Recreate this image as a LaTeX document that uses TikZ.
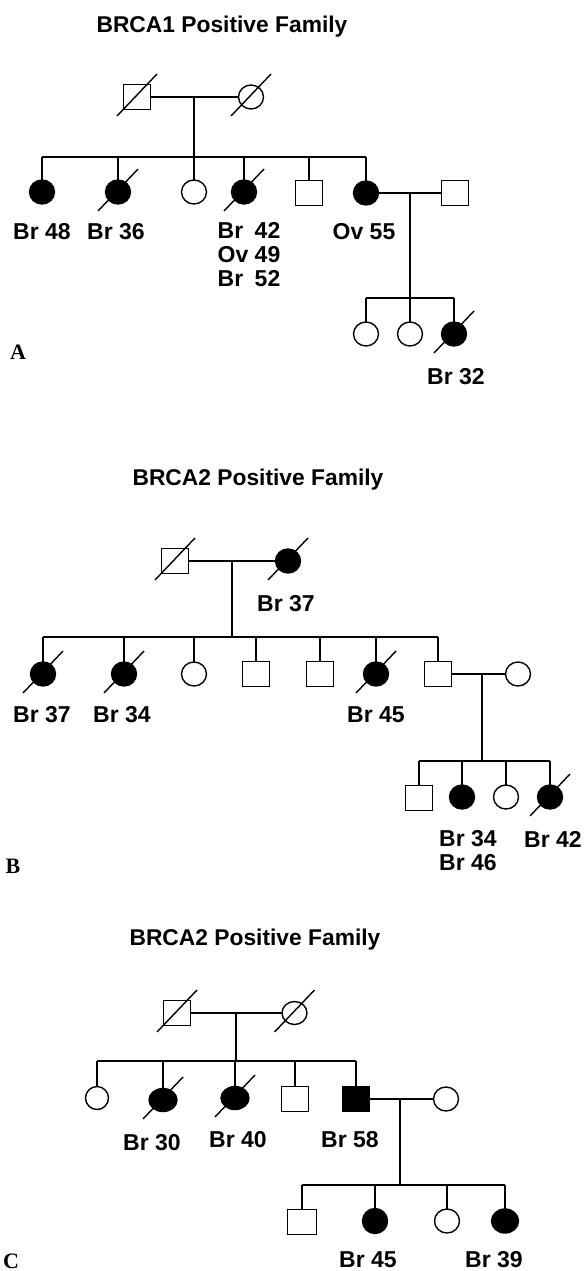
\documentclass[tikz,border=0pt]{standalone}
\usepackage{fontspec}
\setmainfont{Liberation Sans}
\newfontfamily\panelserif{Liberation Serif}
\usetikzlibrary{shapes.geometric}
\begin{document}
\begin{tikzpicture}[x=1pt,y=-1pt,
  every node/.style={inner sep=0pt, outer sep=0pt},
  line width=1.4pt,
  male/.style={draw, rectangle, minimum width=27pt, minimum height=25pt, fill=white},
  female/.style={draw, ellipse, minimum width=25pt, minimum height=24pt, fill=white},
  aff/.style={fill=black},
  lbl/.style={font=\fontsize{23}{24}\selectfont\bfseries, align=center},
  ttl/.style={font=\fontsize{22.8}{24}\selectfont\bfseries},
  panel/.style={font=\fontsize{22}{24}\selectfont\panelserif\bfseries},
  dslash/.style={line width=1.4pt}
]
\useasboundingbox (0,0) rectangle (585,1271);

% ---------------- Panel A ----------------
\node[ttl] (tA) at (222,27) {BRCA1 Positive Family};
\node[male] (aF) at (137,97) {};
\node[female] (aM) at (251,97) {};
\node[female,aff] (a1) at (42,192) {};
\node[female,aff] (a2) at (118,192) {};
\node[female] (a3) at (194,192) {};
\node[female,aff] (a4) at (244,192) {};
\node[male] (a5) at (309,193) {};
\node[female,aff] (a6) at (366,193) {};
\node[male] (aS) at (455,193) {};
\node[female] (a7) at (366,334) {};
\node[female] (a8) at (410,334) {};
\node[female,aff] (a9) at (454,334) {};
\coordinate (aMid) at (194,97);
\coordinate (aSib) at (194,157);
\coordinate (aMid2) at (410,193);
\coordinate (aSib2) at (410,298);
\draw (aF) -- (aM);
\draw (aMid) -- (aSib);
\draw (a1.north |- aSib) -- (a6.north |- aSib);
\foreach \c in {a1,a2,a3,a4,a5,a6} \draw (\c.north) -- (\c.north |- aSib);
\draw (a6) -- (aS);
\draw (aMid2) -- (aSib2);
\draw (a7.north |- aSib2) -- (a9.north |- aSib2);
\foreach \c in {a7,a8,a9} \draw (\c.north) -- (\c.north |- aSib2);
\foreach \n in {aF,aM,a2,a4,a9}
  \draw[dslash] ([shift={(-20,19)}]\n.center) -- ([shift={(20,-23)}]\n.center);
\node[lbl] (la1) at (42,232) {Br 48};
\node[lbl] (la2) at (116,232) {Br 36};
\node[lbl] (la4) at (249,258) {\begin{tabular}{@{}l@{\ }l@{}}Br & 42\\ Ov & 49\\ Br & 52\end{tabular}};
\node[lbl] (la6) at (364,232) {Ov 55};
\node[lbl] (la9) at (456,377) {Br 32};
\node[panel] (pA) at (18,352) {A};

% ---------------- Panel B ----------------
\node[ttl] (tB) at (258,480) {BRCA2 Positive Family};
\node[male] (bF) at (175,561) {};
\node[female,aff] (bM) at (288,561) {};
\node[female,aff] (b1) at (43,674) {};
\node[female,aff] (b2) at (124,674) {};
\node[female] (b3) at (194,674) {};
\node[male] (b4) at (256,674) {};
\node[male] (b5) at (320,674) {};
\node[female,aff] (b6) at (376,674) {};
\node[male] (b7) at (438,674) {};
\node[female] (bS) at (518,674) {};
\node[male] (b8) at (419,798) {};
\node[female,aff] (b9) at (462,797) {};
\node[female] (b10) at (506,797) {};
\node[female,aff] (b11) at (550,797) {};
\coordinate (bMid) at (232,561);
\coordinate (bSib) at (232,637);
\coordinate (bMid2) at (482,674);
\coordinate (bSib2) at (482,761);
\draw (bF) -- (bM);
\draw (bMid) -- (bSib);
\draw (b1.north |- bSib) -- (b7.north |- bSib);
\foreach \c in {b1,b2,b3,b4,b5,b6,b7} \draw (\c.north) -- (\c.north |- bSib);
\draw (b7) -- (bS);
\draw (bMid2) -- (bSib2);
\draw (b8.north |- bSib2) -- (b11.north |- bSib2);
\foreach \c in {b8,b9,b10,b11} \draw (\c.north) -- (\c.north |- bSib2);
\foreach \n in {bF,bM,b1,b2,b6,b11}
  \draw[dslash] ([shift={(-20,19)}]\n.center) -- ([shift={(20,-23)}]\n.center);
\node[lbl] (lbM) at (286,604) {Br 37};
\node[lbl] (lb1) at (42,715) {Br 37};
\node[lbl] (lb2) at (122,715) {Br 34};
\node[lbl] (lb6) at (376,715) {Br 45};
\node[lbl] (lb9) at (468,851) {Br 34\\Br 46};
\node[lbl] (lb11) at (553,839) {Br 42};
\node[panel] (pB) at (13,866) {B};

% ---------------- Panel C ----------------
\node[ttl] (tC) at (255,940) {BRCA2 Positive Family};
\node[male] (cF) at (177,1013) {};
\node[female, minimum height=23pt] (cM) at (294.5,1013) {};
\node[female, minimum width=23pt, minimum height=23pt] (c1) at (97,1098) {};
\node[female,aff, minimum width=28pt, minimum height=23pt] (c2) at (163,1100) {};
\node[female,aff, minimum width=28pt, minimum height=23pt] (c3) at (235,1098) {};
\node[male] (c4) at (295,1099) {};
\node[male,aff] (c5) at (356,1099) {};
\node[female] (cS) at (446,1099) {};
\node[male, minimum width=29pt] (c6) at (302,1222) {};
\node[female,aff, minimum height=25pt] (c7) at (375,1221) {};
\node[female] (c8) at (447,1221) {};
\node[female,aff, minimum width=27pt] (c9) at (505,1221) {};
\coordinate (cMid) at (236,1013);
\coordinate (cSib) at (236,1061);
\coordinate (cMid2) at (400,1099);
\coordinate (cSib2) at (400,1185);
\draw (cF) -- (cM);
\draw (cMid) -- (cSib);
\draw (c1.north |- cSib) -- (c5.north |- cSib);
\foreach \c in {c1,c2,c3,c4,c5} \draw (\c.north) -- (\c.north |- cSib);
\draw (c5) -- (cS);
\draw (cMid2) -- (cSib2);
\draw (c6.north |- cSib2) -- (c9.north |- cSib2);
\foreach \c in {c6,c7,c8,c9} \draw (\c.north) -- (\c.north |- cSib2);
\foreach \n in {cF,cM,c2,c3}
  \draw[dslash] ([shift={(-20,19)}]\n.center) -- ([shift={(20,-23)}]\n.center);
\node[lbl] (lc2) at (152,1143) {Br 30};
\node[lbl] (lc3) at (238,1140) {Br 40};
\node[lbl] (lc5) at (350,1140) {Br 58};
\node[lbl] (lc7) at (368,1260) {Br 45};
\node[lbl] (lc9) at (494,1260) {Br 39};
\node[panel] (pC) at (11,1261) {C};
\end{tikzpicture}
\end{document}
